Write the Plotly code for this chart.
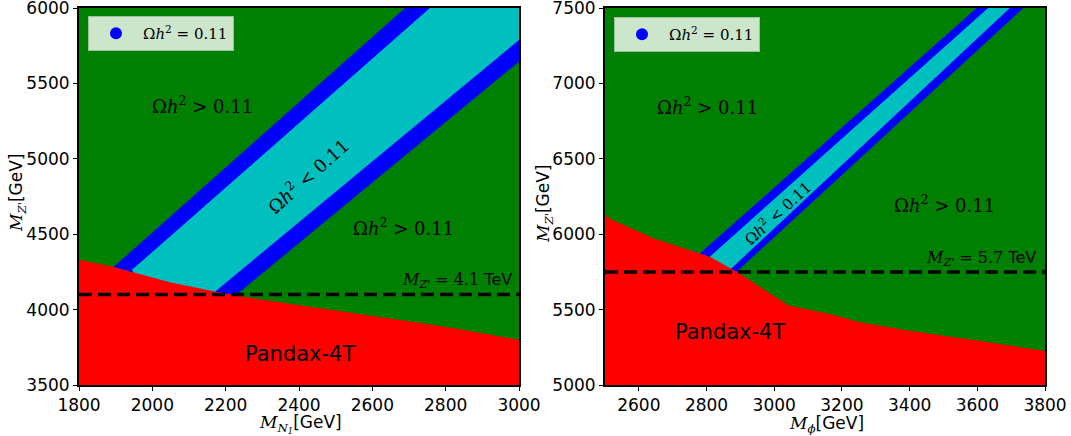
import plotly.graph_objects as go

# ---------------- data ----------------
# Left panel: M_N1 vs M_Z'
L_red_x = [1800, 1890, 2050, 2170, 2300, 2560, 2750, 2840, 3000, 3000, 1800]
L_red_y = [4330, 4285, 4180, 4120, 4065, 3975, 3905, 3870, 3800, 3500, 3500]
L_blue_x = [1893, 2689, 3000, 3000, 2230, 2000]
L_blue_y = [4280, 6000, 6000, 5644, 4100, 3900]
L_cyan_x = [1944, 2757, 3000, 3000, 2171, 2050]
L_cyan_y = [4262, 6000, 6000, 5788, 4119, 3900]
L_line_y = 4100
L_xticks = [1800, 2000, 2200, 2400, 2600, 2800, 3000]
L_yticks = [3500, 4000, 4500, 5000, 5500, 6000]

# Right panel: M_phi vs M_Z'
R_red_x = [2500, 2522, 2645, 2808, 2890, 3043, 3165, 3257, 3400, 3604, 3800, 3800, 2500]
R_red_y = [6125, 6094, 5971, 5852, 5750, 5527, 5470, 5414, 5360, 5294, 5225, 5000, 5000]
R_blue_x = [2781, 3598, 3736, 2889, 2830]
R_blue_y = [5873, 7500, 7500, 5751, 5600]
R_cyan_x = [2810, 3632, 3696, 2867, 2840]
R_cyan_y = [5851, 7500, 7500, 5760, 5600]
R_line_y = 5750
R_xticks = [2600, 2800, 3000, 3200, 3400, 3600, 3800]
R_yticks = [5000, 5500, 6000, 6500, 7000, 7500]

GREEN = "#008000"
BLUE = "#0000ff"
CYAN = "#00bfbf"
RED = "#ff0000"
SERIF = "DejaVu Serif"
SANS = "DejaVu Sans"

W, H = 1071, 436
Lx0, Lx1 = 79 / W, 519 / W
Rx0, Rx1 = 605 / W, 1045 / W
Y0, Y1 = (H - 385) / H, (H - 8) / H

fig = go.Figure()

def poly(x, y, color, xa, ya):
    fig.add_trace(go.Scatter(x=x + [x[0]], y=y + [y[0]], mode="lines", fill="toself",
                             fillcolor=color, line=dict(width=0, color=color),
                             hoverinfo="skip", showlegend=False, xaxis=xa, yaxis=ya))

poly(L_blue_x, L_blue_y, BLUE, "x", "y")
poly(L_cyan_x, L_cyan_y, CYAN, "x", "y")
poly(L_red_x, L_red_y, RED, "x", "y")
poly(R_blue_x, R_blue_y, BLUE, "x2", "y2")
poly(R_cyan_x, R_cyan_y, CYAN, "x2", "y2")
poly(R_red_x, R_red_y, RED, "x2", "y2")

# dashed lines
fig.add_trace(go.Scatter(x=[L_xticks[0], L_xticks[-1]], y=[L_line_y, L_line_y], mode="lines",
                         line=dict(color="black", width=3.5, dash="13px,6px"),
                         showlegend=False, hoverinfo="skip", xaxis="x", yaxis="y"))
fig.add_trace(go.Scatter(x=[2500, R_xticks[-1]], y=[R_line_y, R_line_y], mode="lines",
                         line=dict(color="black", width=3.5, dash="13px,6px"),
                         showlegend=False, hoverinfo="skip", xaxis="x2", yaxis="y2"))

# legend entries
leg_text = "Ω<i>h</i><sup>2</sup> = 0.11"
fig.add_trace(go.Scatter(x=[None], y=[None], mode="markers", name=leg_text,
                         marker=dict(color=BLUE, size=13, line=dict(width=0)),
                         xaxis="x", yaxis="y", legend="legend"))
fig.add_trace(go.Scatter(x=[None], y=[None], mode="markers", name=leg_text,
                         marker=dict(color=BLUE, size=13, line=dict(width=0)),
                         xaxis="x2", yaxis="y2", legend="legend2"))

axis_common = dict(showgrid=False, zeroline=False, ticks="outside", ticklen=4, tickwidth=1,
                   tickcolor="black", showline=True, linecolor="black", linewidth=2, mirror=True,
                   automargin=False, ticklabeloverflow="allow",
                   tickfont=dict(family=SANS, size=17, color="black"))

legend_common = dict(bgcolor="rgba(255,255,255,0.8)", bordercolor="rgba(160,190,160,1)", borderwidth=1,
                     font=dict(family=SERIF, size=15, color="black"), xanchor="left", yanchor="top",
                     itemsizing="constant", itemwidth=44)

fig.update_layout(
    width=W, height=H, margin=dict(l=0, r=0, t=0, b=0, autoexpand=False),
    paper_bgcolor="white", plot_bgcolor=GREEN,
    xaxis=dict(domain=[Lx0, Lx1], range=[1800, 3000], tickvals=L_xticks, anchor="y", **axis_common),
    yaxis=dict(domain=[Y0, Y1], range=[3500, 6000], tickvals=L_yticks, anchor="x", **axis_common),
    xaxis2=dict(domain=[Rx0, Rx1], range=[2500, 3800], tickvals=R_xticks, anchor="y2", **axis_common),
    yaxis2=dict(domain=[Y0, Y1], range=[5000, 7500], tickvals=R_yticks, anchor="x2", **axis_common),
    legend=dict(x=88 / W, y=(H - 16) / H, **legend_common),
    legend2=dict(x=614 / W, y=(H - 17) / H, **legend_common),
)

def note(text, x, y, xref, yref, size=18, angle=0, family=SERIF, xanchor="center"):
    fig.add_annotation(text=text, x=x, y=y, xref=xref, yref=yref, showarrow=False,
                       textangle=angle, xanchor=xanchor, yanchor="middle",
                       font=dict(family=family, size=size, color="black"))

gt = "Ω<i>h</i><sup>2</sup> > 0.11"
lt = "Ω<i>h</i><sup>2</sup> < 0.11"
# left panel text
note(gt, 2136, 5354, "x", "y")
note(gt, 2686, 4551, "x", "y")
note(lt, 2422, 4889, "x", "y", angle=-42)
note("Pandax-4T", 2404, 3706, "x", "y", size=21, family=SANS)
note("<i>M</i><sub><i>Z'</i></sub> = 4.1 <span style='font-family:DejaVu Sans'>TeV</span>",
     2985, 4195, "x", "y", size=16, xanchor="right")
# right panel text
note(gt, 2803, 6849, "x2", "y2")
note(gt, 3502, 6198, "x2", "y2")
note(lt, 3007, 6143, "x2", "y2", size=15, angle=-43)
note("Pandax-4T", 2869, 5349, "x2", "y2", size=21, family=SANS)
note("<i>M</i><sub><i>Z'</i></sub> = 5.7 <span style='font-family:DejaVu Sans'>TeV</span>",
     3780, 5840, "x2", "y2", size=16, xanchor="right")

# axis titles
def atitle(main, sub, x, y, angle=0):
    txt = ("<span style='font-family:DejaVu Serif'><i>%s</i><sub><i>%s</i></sub></span>"
           "<span style='font-family:DejaVu Sans'>[GeV]</span>") % (main, sub)
    fig.add_annotation(text=txt, x=x, y=y, xref="paper", yref="paper", showarrow=False,
                       textangle=angle, xanchor="center", yanchor="middle",
                       font=dict(family=SANS, size=17, color="black"))

atitle("M", "N<sub>1</sub>", 300 / W, (H - 424) / H)
atitle("M", "ϕ", 826 / W, (H - 424) / H)
atitle("M", "Z'", 18 / W, (H - 193) / H, angle=-90)
atitle("M", "Z'", 544 / W, (H - 204) / H, angle=-90)

fig.write_html("out.html", config={"displayModeBar": False},
               post_script="document.body.style.margin='0';")
